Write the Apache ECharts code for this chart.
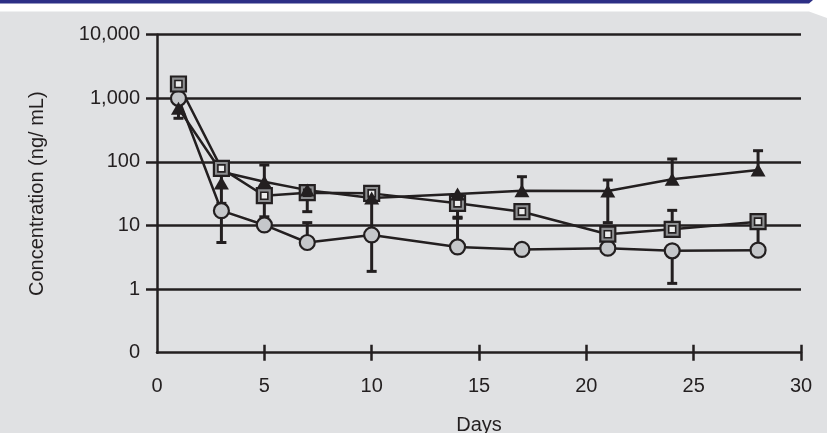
<!DOCTYPE html>
<html>
<head>
<meta charset="utf-8">
<script src="https://cdn.jsdelivr.net/npm/echarts@6/dist/echarts.min.js"></script>
<style>
  html, body { margin: 0; padding: 0; background: #ffffff; }
  #chart { width: 827px; height: 433px; }
</style>
</head>
<body>
<div id="chart"></div>
<script>
// Sampling days
const days = [1, 3, 5, 7, 10, 14, 17, 21, 24, 28];

// Circle series (mean and error-bar ends)
const circleVals = [1000, 17.1, 10.2, 5.4, 7.1, 4.6, 4.2, 4.4, 4.0, 4.1];
const circleLow  = [null, 5.4, null, null, 1.9, null, null, null, 1.23, null];
const circleHigh = [null, null, null, 11.1, 26, 13, null, null, null, null];

// Square series
const squareVals = [1679, 79, 29.4, 32.8, 32, 22.3, 16.5, 7.3, 8.7, 11.5];
const squareLow  = [null, null, 13.7, 16.5, null, 13.5, null, null, null, 4.3];
const squareHigh = [null, null, null, null, null, null, null, null, 17.3, null];

// Triangle series: connecting line and plotted markers
const triLine  = [697, 70, 48.9, 36, 27, 31.3, 35.3, 34.9, 53.3, 74.6];
const triMarks = [697, 46.6, 48.9, 36, 27, 31.3, 35.3, 34.9, 53.3, 74.6];
const triLow   = [485, 22.3, null, null, null, null, null, 11.1, null, null];
const triHigh  = [null, 70, 89.4, null, null, null, 58.5, 51.9, 111, 150];

// Axis ticks
const yTicks = [0.1, 1, 10, 100, 1000, 10000];
const xTicks = [5, 10, 15, 20, 25, 30];

const INK = '#231f20';
const FONT = "'Liberation Sans', Arial, sans-serif";
const FS = 20;

function pairs(vals) { return days.map((d, i) => [d, vals[i]]); }
function bars(vals, ...ends) {
  const out = [];
  ends.forEach(arr => arr.forEach((e, i) => { if (e != null) out.push([days[i], vals[i], e]); }));
  return out;
}
const errData = [].concat(
  bars(circleVals, circleLow, circleHigh),
  bars(squareVals, squareLow, squareHigh),
  bars(triMarks, triLow, triHigh)
);

const chart = echarts.init(document.getElementById('chart'), null, { renderer: 'canvas' });

const xBase = {
  type: 'value', min: 0, max: 30, interval: 5,
  splitLine: { show: false }
};

chart.setOption({
  animation: false,
  backgroundColor: 'transparent',
  textStyle: { fontFamily: FONT },
  graphic: [
    { type: 'polygon', z: -10, shape: { points: [[0, 0], [813, 0], [809, 3.5], [0, 3.5]] }, style: { fill: '#2d2f86' } },
    { type: 'polygon', z: -10, shape: { points: [[0, 11.5], [809, 11.5], [827, 18], [827, 433], [0, 433]] }, style: { fill: '#e0e1e3' } }
  ],
  grid: { left: 157, right: 26, top: 34.7, bottom: 80.3, containLabel: false, outerBoundsMode: 'none' },
  xAxis: [
    Object.assign({}, xBase, {
      name: 'Days', nameLocation: 'middle', nameGap: 63,
      nameTextStyle: { fontSize: FS, color: INK, fontFamily: FONT },
      axisLine: { lineStyle: { color: INK, width: 2.5 } },
      axisTick: { show: true, length: 8, inside: false, lineStyle: { color: INK, width: 2.5 }, customValues: xTicks },
      axisLabel: { fontSize: FS, color: INK, margin: 24, fontFamily: FONT }
    }),
    Object.assign({}, xBase, {
      position: 'bottom',
      axisLine: { show: false },
      axisTick: { show: true, length: 8, inside: true, lineStyle: { color: INK, width: 2.5 }, customValues: xTicks },
      axisLabel: { show: false }
    })
  ],
  yAxis: {
    type: 'log', logBase: 10, min: 0.1, max: 10000,
    name: 'Concentration (ng/ mL)', nameLocation: 'middle', nameGap: 110,
    nameTextStyle: { fontSize: FS, color: INK, fontFamily: FONT },
    axisLine: { show: true, lineStyle: { color: INK, width: 2.5 } },
    axisTick: { show: true, length: 11, lineStyle: { color: INK, width: 2.5 }, customValues: yTicks.slice(1) },
    axisLabel: {
      fontSize: FS, color: INK, margin: 17, fontFamily: FONT,
      customValues: yTicks,
      formatter: v => (v < 1 ? '0' : Math.round(v).toLocaleString('en-US'))
    },
    splitLine: { show: true, lineStyle: { color: INK, width: 2.5 } }
  },
  series: [
    {
      type: 'custom', name: 'error bars', data: errData, z: 2,
      encode: { x: 0, y: 1 },
      renderItem: function (params, api) {
        const p0 = api.coord([api.value(0), api.value(1)]);
        const p1 = api.coord([api.value(0), api.value(2)]);
        return {
          type: 'group', children: [
            { type: 'line', shape: { x1: p0[0], y1: p0[1], x2: p1[0], y2: p1[1] }, style: { stroke: INK, lineWidth: 3 } },
            { type: 'line', shape: { x1: p1[0] - 5, y1: p1[1], x2: p1[0] + 5, y2: p1[1] }, style: { stroke: INK, lineWidth: 3 } }
          ]
        };
      }
    },
    {
      type: 'line', name: 'circle', data: pairs(circleVals), z: 3,
      symbol: 'circle', symbolSize: 15,
      lineStyle: { color: INK, width: 2.5 },
      itemStyle: { color: '#c5c7ca', borderColor: INK, borderWidth: 2.2, opacity: 1 }
    },
    {
      type: 'line', name: 'square', data: pairs(squareVals), z: 3,
      symbol: 'rect', symbolSize: 15,
      lineStyle: { color: INK, width: 2.5 },
      itemStyle: { color: '#8d8e90', borderColor: INK, borderWidth: 2.2, opacity: 1 }
    },
    {
      type: 'scatter', name: 'square inner', data: pairs(squareVals), z: 4,
      symbol: 'rect', symbolSize: 7,
      itemStyle: { color: '#ececec', borderColor: INK, borderWidth: 1.6, opacity: 1 }
    },
    {
      type: 'line', name: 'triangle', data: pairs(triLine), z: 3,
      showSymbol: false,
      lineStyle: { color: INK, width: 2.5 }
    },
    {
      type: 'scatter', name: 'triangle markers', data: pairs(triMarks), z: 4,
      symbol: 'triangle', symbolSize: [15, 13],
      itemStyle: { color: INK, opacity: 1 }
    }
  ]
});
</script>
</body>
</html>
